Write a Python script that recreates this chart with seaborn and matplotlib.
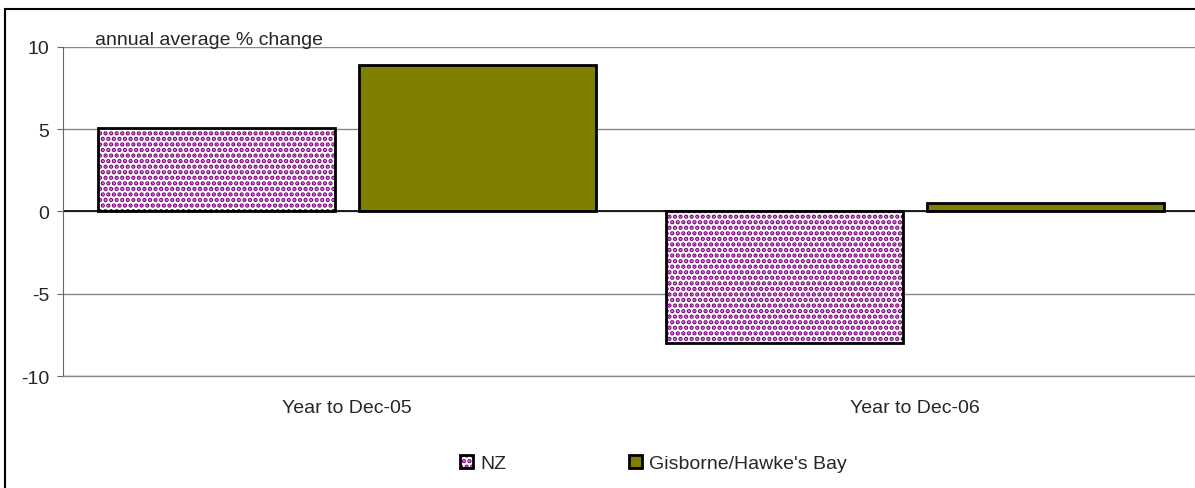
import pandas as pd
import matplotlib.pyplot as plt
import seaborn as sns
from matplotlib.patches import Rectangle, Patch

# Chart values
categories = ['Year to Dec-05', 'Year to Dec-06']
series_names = ['NZ', "Gisborne/Hawke's Bay"]
nz_values = [5.1, -8.0]
gis_values = [8.9, 0.5]
y_ticks = [-10, -5, 0, 5, 10]

df = pd.DataFrame({
    'period': categories * 2,
    'series': [series_names[0]] * 2 + [series_names[1]] * 2,
    'change': nz_values + gis_values,
})

sns.set_style('white')
plt.rcParams['font.family'] = ['Liberation Sans', 'DejaVu Sans']
plt.rcParams['axes.unicode_minus'] = False
plt.rcParams['hatch.linewidth'] = 2.2

fig = plt.figure(figsize=(11.95, 4.89), dpi=100)
ax = fig.add_axes([0.0527, 0.229, 0.9503, 0.673])

sns.barplot(data=df, x='period', y='change', hue='series', ax=ax,
            palette=['white', '#808000'], saturation=1, width=0.919, gap=0.092,
            edgecolor='black', linewidth=2, legend=False)

# dotted fill for the NZ bars, then a black outline on top
dots = '...'
nz_bars = ax.containers[0]
for p in nz_bars:
    p.set_edgecolor('#800080')
    p.set_hatch(dots)
    p.set_linewidth(0)
    ax.add_patch(Rectangle(p.get_xy(), p.get_width(), p.get_height(),
                           fill=False, ec='black', lw=2, zorder=p.get_zorder() + 0.1))

ax.set_ylim(-10, 10)
ax.set_yticks(y_ticks)
ax.set_xlim(-0.5, 1.5)
ax.set_xlabel('')
ax.set_ylabel('')
ax.yaxis.grid(True, color='#888888', linewidth=1)
ax.set_axisbelow(True)
ax.axhline(0, color='black', linewidth=1.2, zorder=1.5)
for s in ['top', 'right']:
    ax.spines[s].set_visible(False)
ax.spines['bottom'].set_color('#888888')
ax.spines['bottom'].set_linewidth(1)
ax.spines['left'].set_color('#666666')
ax.tick_params(axis='y', left=True, length=4, color='#666666', labelsize=14, pad=6)
ax.tick_params(axis='x', bottom=False, labelsize=14, pad=13)

ax.text(0.028, 1.01, 'annual average % change', transform=ax.transAxes,
        fontsize=14, ha='left', va='baseline')

# legend below the plot
nz_handle = (Patch(facecolor='white', edgecolor='#800080', hatch=dots, linewidth=0),
             Patch(fill=False, edgecolor='black', linewidth=2))
gis_handle = Patch(facecolor='#808000', edgecolor='black', linewidth=2)
leg = fig.legend([nz_handle, gis_handle], series_names, loc='center',
                 bbox_to_anchor=(0.547, 0.05), ncol=2, frameon=False, fontsize=14,
                 handlelength=0.65, handleheight=0.65, handletextpad=0.4,
                 columnspacing=6.3)

# outer chart border
fig.patches.append(Rectangle((0.0045, -0.01), 1.0, 0.99, transform=fig.transFigure,
                             fill=False, ec='black', lw=1.5))

fig.savefig('out.png', dpi=100)
